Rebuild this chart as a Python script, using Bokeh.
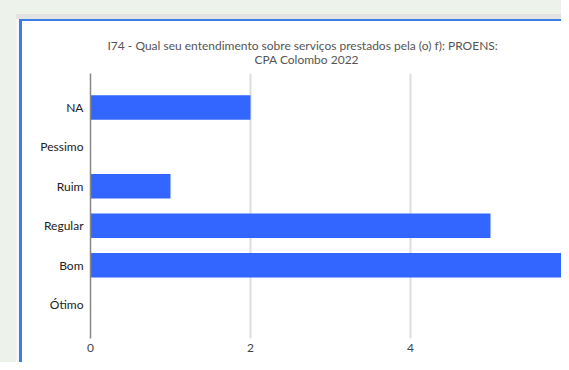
from bokeh.plotting import figure
from bokeh.models import ColumnDataSource, FactorRange, FixedTicker, Title
from bokeh.embed import file_html
from bokeh.resources import INLINE

categories = ["NA", "Pessimo", "Ruim", "Regular", "Bom", "Ótimo"]
values = [2, 0, 1, 5, 6, 0]
x_ticks = [0, 2, 4, 6]
title_line1 = "I74 - Qual seu entendimento sobre serviços prestados pela (o) f): PROENS:"
title_line2 = "CPA Colombo 2022"

FONT = "Lato"
GREEN = "#edf3ea"
BLUE = "#3b7fe6"


def block(color):
    return f"linear-gradient({color}, {color})"


page_styles = {
    "background-color": GREEN,
    "background-image": ", ".join([block("#ffffff"), block(BLUE), block("#f7f7f7"),
                                   block("#e2e2e2")]),
    "background-position": "22px 21px, 19px 19px, 16px 19px, 16px 14px",
    "background-size": "100% 100%, 100% 100%, 100% 100%, 100% 100%",
    "background-repeat": "no-repeat",
    "box-shadow": "8px 0 0 0 #ffffff, 0 8px 0 0 #ffffff",
}

src = ColumnDataSource(dict(cat=categories, val=values))

y_range = FactorRange(factors=list(reversed(categories)), range_padding=0.36,
                      range_padding_units="absolute")

p = figure(width=561, height=362, y_range=y_range, x_range=(0, 5.8875),
           output_backend="svg", toolbar_location=None,
           min_border_left=90, min_border_right=0, min_border_top=73,
           min_border_bottom=24,
           background_fill_color="white", border_fill_alpha=0,
           outline_line_color=None, styles=page_styles)

p.hbar(y="cat", right="val", height=0.62, source=src, color="#3366ff", line_color=None)

title_style = dict(text_font=FONT, text_font_size="12px", text_font_style="normal",
                   text_color="#555555")

p.title.text = title_line1
p.title.align = "left"
p.title.offset = 17
p.title.standoff = -6
for k, v in title_style.items():
    setattr(p.title, k, v)

spacer = Title(text=" ", align="left", standoff=-10, **title_style)
p.add_layout(spacer, "above")
t2 = Title(text=title_line2, align="left", offset=164, standoff=0, **title_style)
p.add_layout(t2, "above")

p.xaxis.ticker = FixedTicker(ticks=x_ticks)
p.xaxis.axis_line_color = None
p.xaxis.major_tick_line_color = None
p.xaxis.major_tick_out = 0
p.xaxis.minor_tick_line_color = None
p.xaxis.major_label_text_font = FONT
p.xaxis.major_label_text_font_size = "12px"
p.xaxis.major_label_text_color = "#444444"
p.xaxis.major_label_standoff = 5

p.yaxis.axis_line_color = "#888888"
p.yaxis.axis_line_width = 1.5
p.yaxis.major_tick_line_color = None
p.yaxis.major_tick_out = 0
p.yaxis.minor_tick_line_color = None
p.yaxis.major_label_text_font = FONT
p.yaxis.major_label_text_font_size = "12px"
p.yaxis.major_label_text_color = "#222222"
p.yaxis.major_label_standoff = 7

p.ygrid.grid_line_color = None
p.xgrid.ticker = FixedTicker(ticks=x_ticks)
p.xgrid.grid_line_color = "#dddddd"
p.xgrid.grid_line_width = 2

open("out.html", "w").write(file_html(p, INLINE))
